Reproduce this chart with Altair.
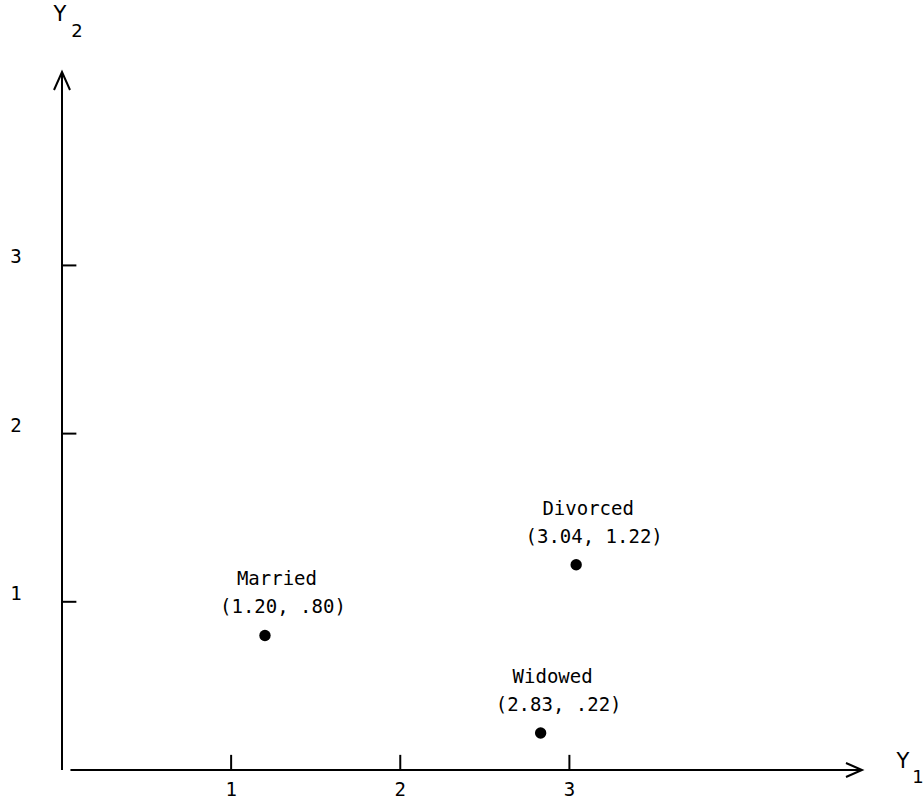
import altair as alt
import pandas as pd

# ---- data ----
groups = ["Married", "Divorced", "Widowed"]
y1_vals = [1.20, 3.04, 2.83]
y2_vals = [0.80, 1.22, 0.22]
coord_labels = ["(1.20, .80)", "(3.04, 1.22)", "(2.83, .22)"]
tick_vals = [1, 2, 3]
tick_labels = ["1", "2", "3"]
x_title = ["Y", "1"]
y_title = ["Y", "2"]
x_max = 4.73
y_max = 4.15

FONT = "DejaVu Sans Mono"

pts = pd.DataFrame({"group": groups, "y1": y1_vals, "y2": y2_vals, "coord": coord_labels})
ticks = pd.DataFrame({"v": tick_vals, "label": tick_labels})
axes_df = pd.DataFrame({"x": [0, 0.05], "x2": [0, x_max], "y": [0, 0], "y2": [y_max, 0]})
yarrow = pd.DataFrame({"x": [0], "y": [y_max], "t": [y_title[0]], "s": [y_title[1]]})
xarrow = pd.DataFrame({"x": [x_max], "y": [0], "t": [x_title[0]], "s": [x_title[1]]})

xs = alt.Scale(domain=[0, x_max], nice=False, zero=False)
ys = alt.Scale(domain=[0, y_max], nice=False, zero=False)
X = lambda f: alt.X(f, type="quantitative", scale=xs, axis=None)
Y = lambda f: alt.Y(f, type="quantitative", scale=ys, axis=None)

axis_lines = alt.Chart(axes_df).mark_rule(color="black", strokeWidth=2).encode(
    x=X("x"), x2="x2", y=Y("y"), y2="y2"
)

x_ticks = alt.Chart(ticks).transform_calculate(z="0", t="0.09").mark_rule(
    color="black", strokeWidth=2
).encode(x=X("v"), y=Y("z:Q"), y2="t:Q")

y_ticks = alt.Chart(ticks).transform_calculate(z="0", t="0.085").mark_rule(
    color="black", strokeWidth=2
).encode(y=Y("v"), x=X("z:Q"), x2="t:Q")

x_tick_text = alt.Chart(ticks).transform_calculate(z="0").mark_text(
    font=FONT, fontSize=19, dy=20, color="black"
).encode(x=X("v"), y=Y("z:Q"), text="label:N")

y_tick_text = alt.Chart(ticks).transform_calculate(z="0").mark_text(
    font=FONT, fontSize=19, dx=-46, dy=-8, color="black"
).encode(x=X("z:Q"), y=Y("v"), text="label:N")

up_arrow = alt.Chart(yarrow).mark_point(
    shape="M-0.4,0.9L0,0L0.4,0.9", size=1600, filled=False, color="black", strokeWidth=2, opacity=1
).encode(x=X("x"), y=Y("y"))

right_arrow = alt.Chart(xarrow).mark_point(
    shape="M-0.8,-0.35L0,0L-0.8,0.35", size=1600, filled=False, color="black", strokeWidth=2, opacity=1
).encode(x=X("x"), y=Y("y"))

y_t = alt.Chart(yarrow).mark_text(font="DejaVu Sans", fontSize=21, dx=-2, dy=-57, color="black").encode(
    x=X("x"), y=Y("y"), text="t:N")
y_s = alt.Chart(yarrow).mark_text(font="DejaVu Sans", fontSize=18, dx=15, dy=-40, color="black").encode(
    x=X("x"), y=Y("y"), text="s:N")
x_t = alt.Chart(xarrow).mark_text(font="DejaVu Sans", fontSize=21, dx=41, dy=-8, color="black").encode(
    x=X("x"), y=Y("y"), text="t:N")
x_s = alt.Chart(xarrow).mark_text(font="DejaVu Sans", fontSize=18, dx=56, dy=8, color="black").encode(
    x=X("x"), y=Y("y"), text="s:N")

dots = alt.Chart(pts).mark_circle(size=130, color="black", opacity=1).encode(
    x=X("y1"), y=Y("y2")
)
names = alt.Chart(pts).mark_text(font=FONT, fontSize=19, dx=12, dy=-56, color="black").encode(
    x=X("y1"), y=Y("y2"), text="group:N"
)
coords = alt.Chart(pts).mark_text(font=FONT, fontSize=19, dx=18, dy=-28, color="black").encode(
    x=X("y1"), y=Y("y2"), text="coord:N"
)

chart = alt.layer(
    axis_lines, x_ticks, y_ticks, x_tick_text, y_tick_text,
    up_arrow, right_arrow, y_t, y_s, x_t, x_s, dots, names, coords
).properties(
    width=800, height=698,
    autosize=alt.AutoSizeParams(type="none"),
    padding={"left": 62, "top": 72, "right": 62, "bottom": 33},
    background="white",
).configure_view(stroke=None)

chart.save("out.html", embed_options={"renderer": "svg", "actions": False})
